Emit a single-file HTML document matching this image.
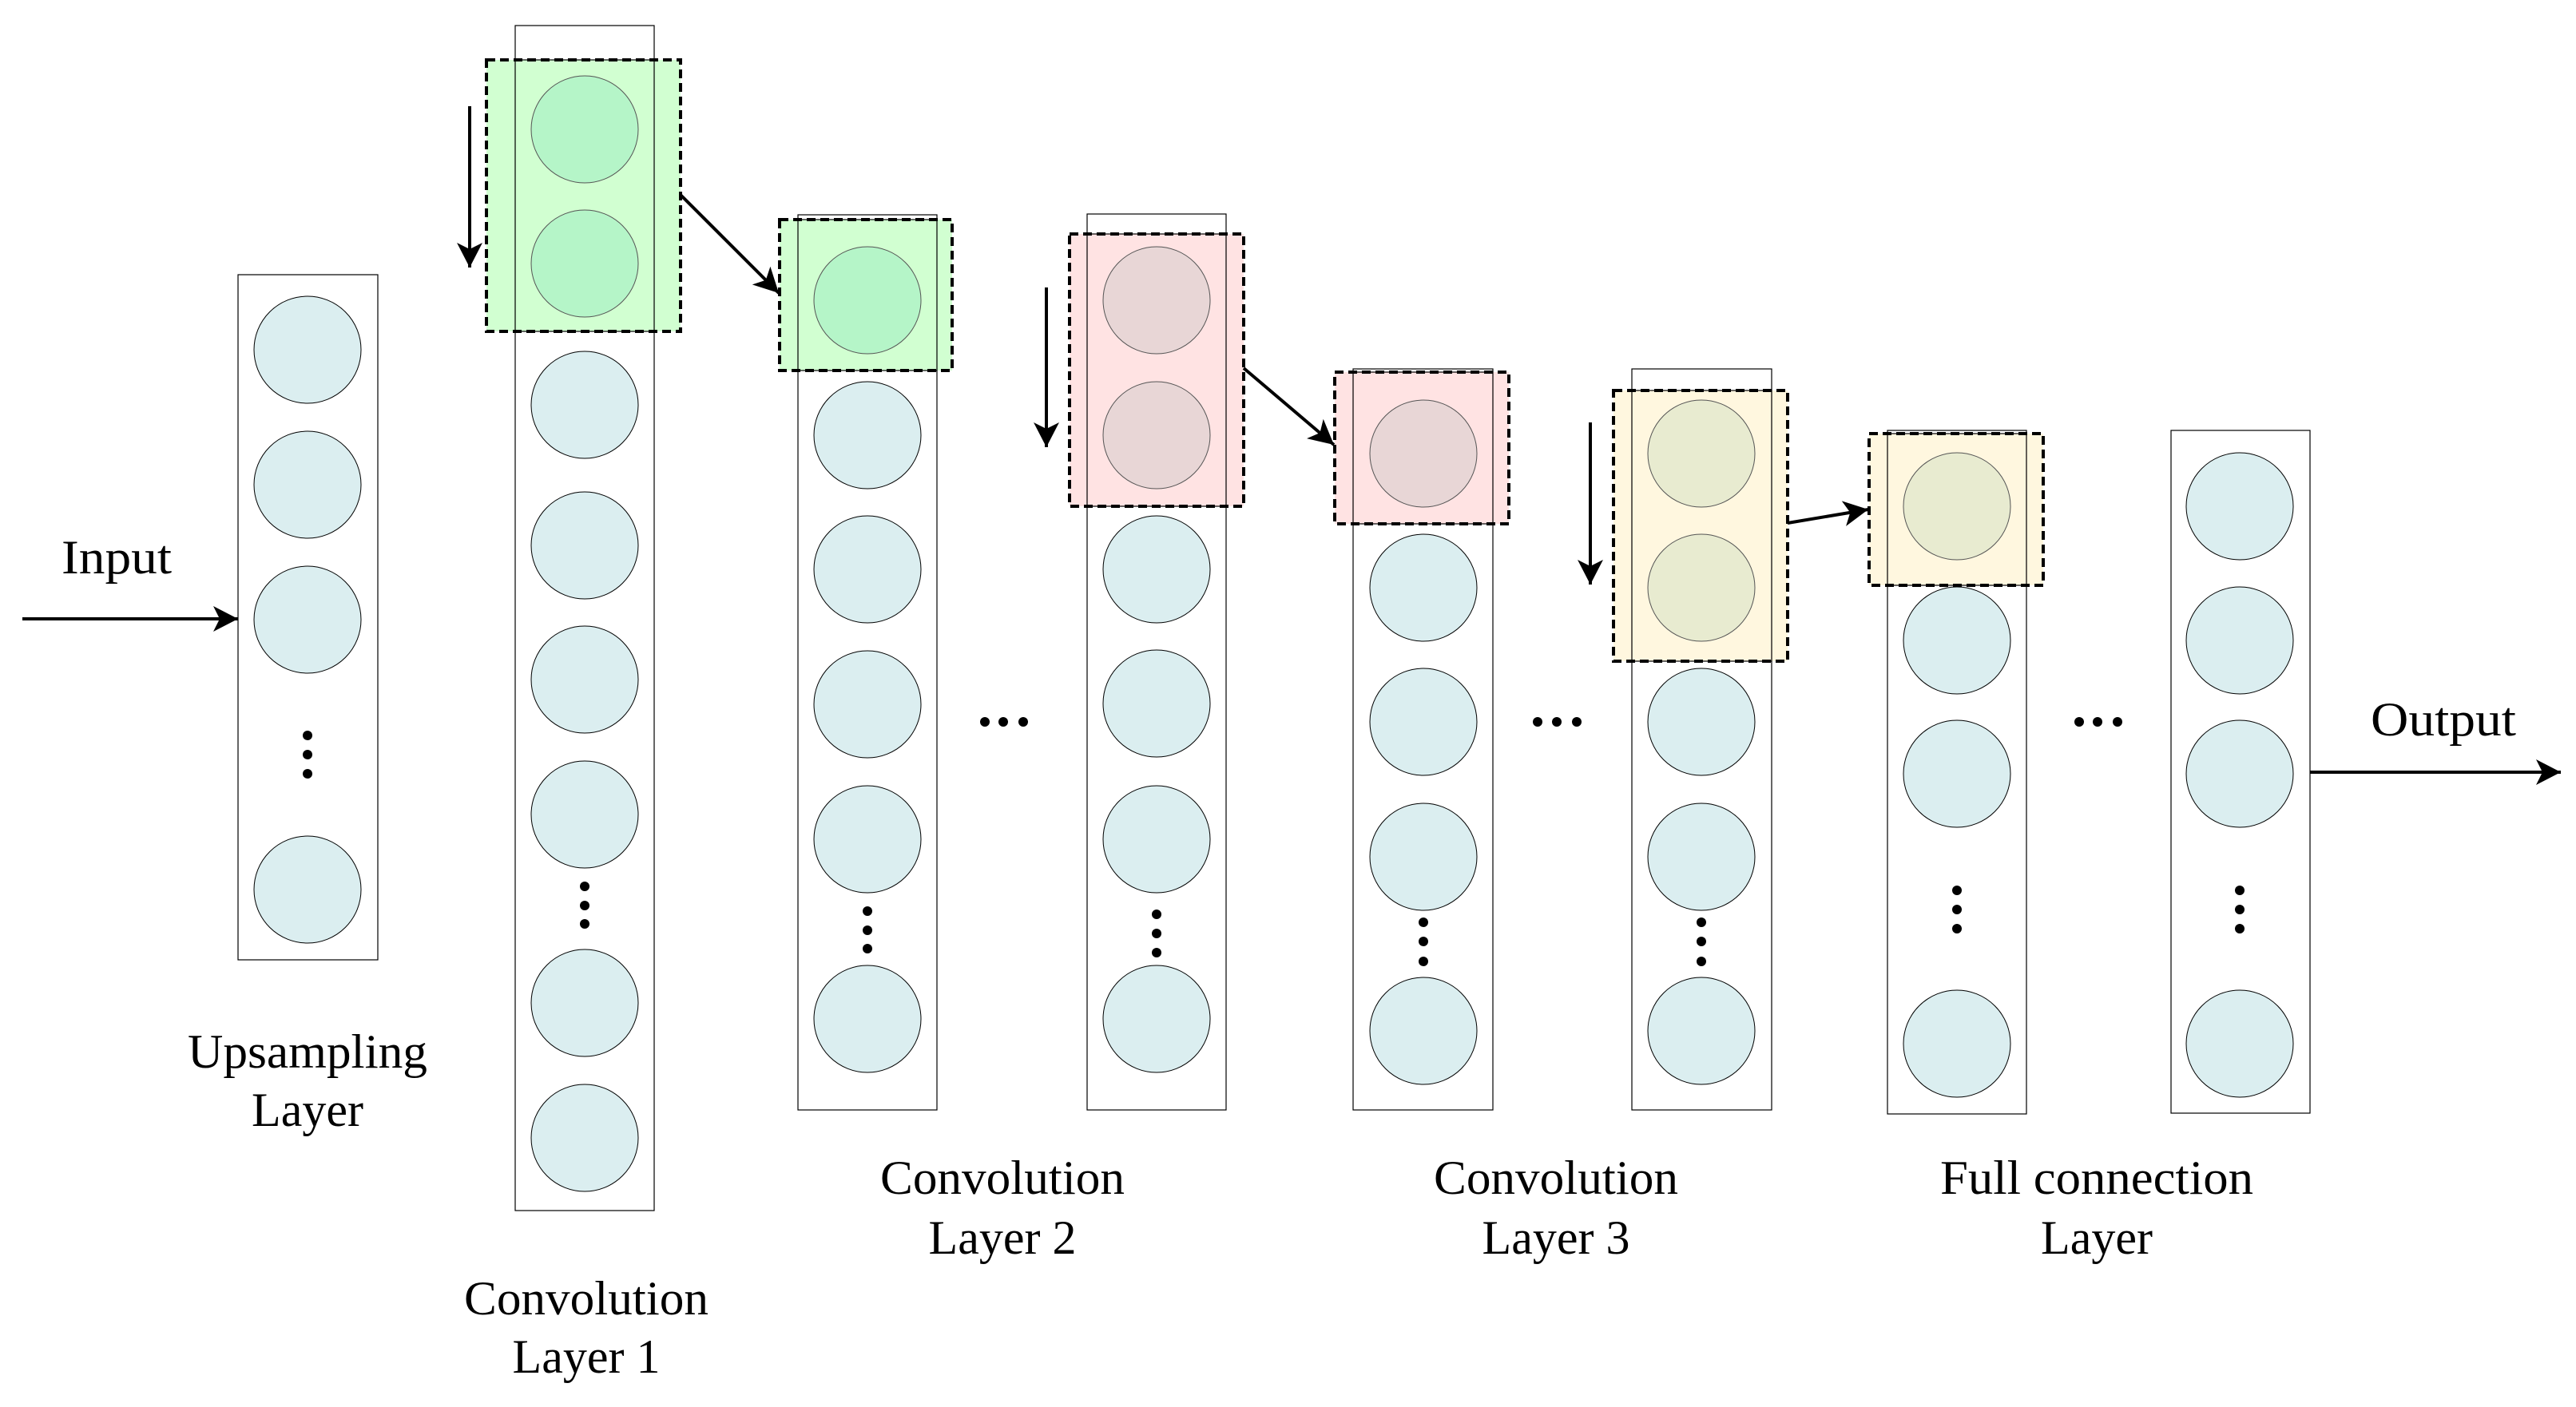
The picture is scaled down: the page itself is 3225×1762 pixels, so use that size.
<!DOCTYPE html>
<html><head><meta charset="utf-8"><style>html,body{margin:0;padding:0;background:#fff}svg{display:block}text{font-family:"Liberation Serif",serif;font-size:60px;fill:#000}</style></head>
<body>
<svg width="3225" height="1762" viewBox="0 0 3225 1762" xmlns="http://www.w3.org/2000/svg">
<defs>
<marker id="ah" markerWidth="10" markerHeight="10" refX="9" refY="5" orient="auto" markerUnits="userSpaceOnUse" viewBox="0 0 10 10" style="overflow:visible">
<path d="M-22,-11 L9,5 L-22,21 L-14,5 Z" fill="#000"/>
</marker>
</defs>
<g stroke="#000" stroke-width="1.2" fill="#fff">
<rect x="298" y="344" width="175" height="858"/>
<rect x="645" y="32" width="174" height="1484"/>
<rect x="999" y="269" width="174" height="1121"/>
<rect x="1361" y="268" width="174" height="1122"/>
<rect x="1694" y="462" width="175" height="928"/>
<rect x="2043" y="462" width="175" height="928"/>
<rect x="2363" y="539" width="174" height="856"/>
<rect x="2718" y="539" width="174" height="855"/>
</g>
<g stroke="#000" stroke-width="1" fill="#dbeef0">
<circle cx="385" cy="438" r="67"/><circle cx="385" cy="607" r="67"/><circle cx="385" cy="776" r="67"/><circle cx="385" cy="1114" r="67"/>
<circle cx="732" cy="507" r="67"/><circle cx="732" cy="683" r="67"/><circle cx="732" cy="851" r="67"/><circle cx="732" cy="1020" r="67"/><circle cx="732" cy="1256" r="67"/><circle cx="732" cy="1425" r="67"/>
<circle cx="1086" cy="545" r="67"/><circle cx="1086" cy="713" r="67"/><circle cx="1086" cy="882" r="67"/><circle cx="1086" cy="1051" r="67"/><circle cx="1086" cy="1276" r="67"/>
<circle cx="1448" cy="713" r="67"/><circle cx="1448" cy="881" r="67"/><circle cx="1448" cy="1051" r="67"/><circle cx="1448" cy="1276" r="67"/>
<circle cx="1782" cy="736" r="67"/><circle cx="1782" cy="904" r="67"/><circle cx="1782" cy="1073" r="67"/><circle cx="1782" cy="1291" r="67"/>
<circle cx="2130" cy="904" r="67"/><circle cx="2130" cy="1073" r="67"/><circle cx="2130" cy="1291" r="67"/>
<circle cx="2450" cy="802" r="67"/><circle cx="2450" cy="969" r="67"/><circle cx="2450" cy="1307" r="67"/>
<circle cx="2804" cy="634" r="67"/><circle cx="2804" cy="802" r="67"/><circle cx="2804" cy="969" r="67"/><circle cx="2804" cy="1307" r="67"/>
</g>
<!-- highlight boxes -->
<g stroke="#000" stroke-width="4" stroke-dasharray="11,6">
<rect x="609" y="75" width="243" height="340" fill="#ccffcc" fill-opacity="0.9"/>
<rect x="976" y="275" width="216" height="189" fill="#ccffcc" fill-opacity="0.9"/>
<rect x="1339" y="293" width="218" height="341" fill="#ffe0e0" fill-opacity="0.9"/>
<rect x="1671" y="466" width="218" height="190" fill="#ffe0e0" fill-opacity="0.9"/>
<rect x="2020" y="489" width="218" height="339" fill="#fff6dc" fill-opacity="0.9"/>
<rect x="2340" y="543" width="218" height="190" fill="#fff6dc" fill-opacity="0.9"/>
</g>
<g stroke="#000" stroke-width="1.2" fill="none">
<rect x="645" y="75" width="174" height="340"/>
<rect x="999" y="275" width="174" height="189"/>
<rect x="1361" y="293" width="174" height="341"/>
<rect x="1694" y="466" width="175" height="190"/>
<rect x="2043" y="489" width="175" height="339"/>
<rect x="2363" y="543" width="174" height="190"/>
</g>
<g stroke="#555" stroke-width="1">
<circle cx="732" cy="162" r="67" fill="#b5f5c8"/><circle cx="732" cy="330" r="67" fill="#b5f5c8"/>
<circle cx="1086" cy="376" r="67" fill="#b5f5c8"/>
<circle cx="1448" cy="376" r="67" fill="#e8d6d6"/><circle cx="1448" cy="545" r="67" fill="#e8d6d6"/>
<circle cx="1782" cy="568" r="67" fill="#e8d6d6"/>
<circle cx="2130" cy="568" r="67" fill="#e8ebd0"/><circle cx="2130" cy="736" r="67" fill="#e8ebd0"/>
<circle cx="2450" cy="634" r="67" fill="#e8ebd0"/>
</g>
<!-- dots -->
<g fill="#000">
<circle cx="385" cy="921" r="6"/><circle cx="385" cy="945" r="6"/><circle cx="385" cy="969" r="6"/>
<circle cx="732" cy="1110" r="6"/><circle cx="732" cy="1134" r="6"/><circle cx="732" cy="1157" r="6"/>
<circle cx="1086" cy="1141" r="6"/><circle cx="1086" cy="1165" r="6"/><circle cx="1086" cy="1188" r="6"/>
<circle cx="1448" cy="1145" r="6"/><circle cx="1448" cy="1169" r="6"/><circle cx="1448" cy="1193" r="6"/>
<circle cx="1782" cy="1155" r="6"/><circle cx="1782" cy="1179" r="6"/><circle cx="1782" cy="1204" r="6"/>
<circle cx="2130" cy="1155" r="6"/><circle cx="2130" cy="1179" r="6"/><circle cx="2130" cy="1204" r="6"/>
<circle cx="2450" cy="1115" r="6"/><circle cx="2450" cy="1139" r="6"/><circle cx="2450" cy="1163" r="6"/>
<circle cx="2804" cy="1115" r="6"/><circle cx="2804" cy="1139" r="6"/><circle cx="2804" cy="1163" r="6"/>
<circle cx="1233" cy="904" r="6"/><circle cx="1256" cy="904" r="6"/><circle cx="1281" cy="904" r="6"/>
<circle cx="1925" cy="904" r="6"/><circle cx="1949" cy="904" r="6"/><circle cx="1974" cy="904" r="6"/>
<circle cx="2603" cy="904" r="6"/><circle cx="2626" cy="904" r="6"/><circle cx="2651" cy="904" r="6"/>
</g>
<!-- arrows -->
<g stroke="#000" stroke-width="4" fill="none" marker-end="url(#ah)">
<line x1="28" y1="775" x2="298" y2="775"/>
<line x1="588" y1="133" x2="588" y2="335"/>
<line x1="852" y1="244" x2="975" y2="367"/>
<line x1="1310" y1="360" x2="1310" y2="560"/>
<line x1="1557" y1="461" x2="1670" y2="557"/>
<line x1="1991" y1="529" x2="1991" y2="732"/>
<line x1="2238" y1="655" x2="2339" y2="638"/>
<line x1="2892" y1="967" x2="3206" y2="967"/>
</g>
<!-- labels -->
<g text-anchor="middle">
<text x="146" y="718" textLength="138" lengthAdjust="spacingAndGlyphs">Input</text>
<text x="3059" y="921" textLength="182" lengthAdjust="spacingAndGlyphs">Output</text>
<text x="385" y="1337" textLength="300" lengthAdjust="spacingAndGlyphs">Upsampling</text>
<text x="385" y="1410">Layer</text>
<text x="734" y="1646" textLength="306" lengthAdjust="spacingAndGlyphs">Convolution</text>
<text x="734" y="1719">Layer  1</text>
<text x="1255" y="1495" textLength="306" lengthAdjust="spacingAndGlyphs">Convolution</text>
<text x="1255" y="1570">Layer  2</text>
<text x="1948" y="1495" textLength="306" lengthAdjust="spacingAndGlyphs">Convolution</text>
<text x="1948" y="1570">Layer  3</text>
<text x="2625" y="1495" textLength="392" lengthAdjust="spacingAndGlyphs">Full connection</text>
<text x="2625" y="1570">Layer</text>
</g>
</svg>
</body></html>
